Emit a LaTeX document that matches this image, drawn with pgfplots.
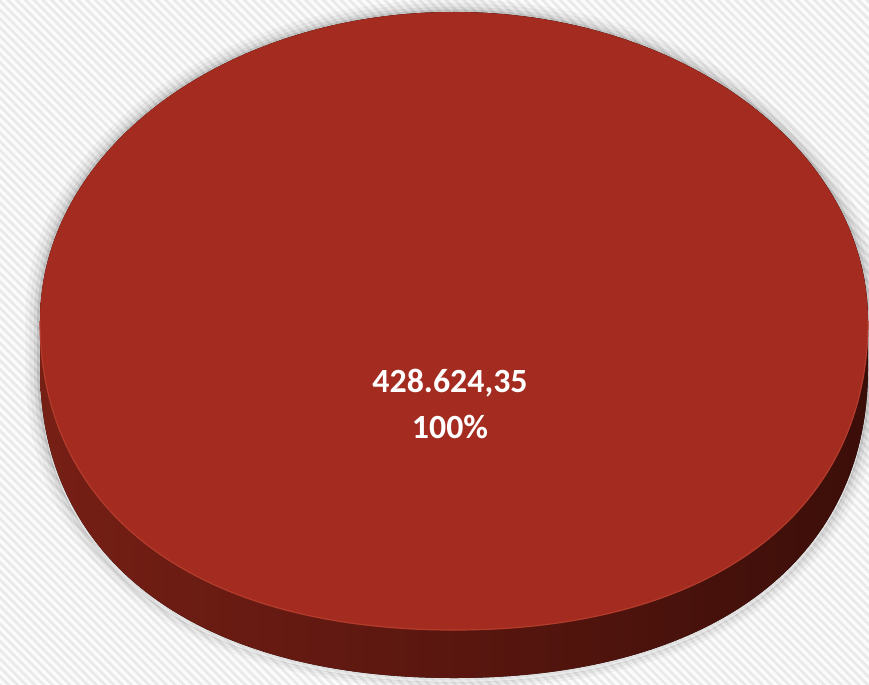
\documentclass[border=0pt]{standalone}
\usepackage{fontspec}
\setmainfont{Carlito}
\usepackage{pgfplots}
\usepackage{pgfplotstable}
\pgfplotsset{compat=1.18}
\usetikzlibrary{patterns.meta}

\definecolor{piefill}{HTML}{A32B1F}
\definecolor{pieedge}{HTML}{B53C2C}
\definecolor{sideL}{HTML}{761F15}
\definecolor{sideM}{HTML}{4E130C}
\definecolor{sideR}{HTML}{3C0E09}
\definecolor{bgstripe}{HTML}{E9E9E9}
\definecolor{bgbase}{HTML}{FBFBFB}

% one slice: the whole total
\pgfplotstableread{
name value
Total 428624.35
}\piedata

% outline of the disc (top face + side), in pixel units, y down
\def\discoutline{(40,321) .. controls (40,150) and (225,12) .. (454,12)
  .. controls (683,12) and (868,150) .. (868,321) -- (868,369)
  .. controls (868,561) and (711,678) .. (454,678)
  .. controls (197,678) and (40,561) .. (40,369) -- cycle}
% top face
\def\topface{(40,321) .. controls (40,150) and (225,12) .. (454,12)
  .. controls (683,12) and (868,150) .. (868,321)
  .. controls (868,513) and (711,630) .. (454,630)
  .. controls (197,630) and (40,513) .. (40,321) -- cycle}

\begin{document}
\begin{tikzpicture}
\pgfplotstablegetelem{0}{value}\of\piedata
\let\pievalue\pgfplotsretval
\begingroup
\pgfkeys{/pgf/fpu=true,/pgf/fpu/output format=fixed}
\pgfmathparse{100*\pievalue/\pievalue}
\xdef\pieshare{\pgfmathresult}
\endgroup
\begin{axis}[
  width=869bp, height=685bp, scale only axis,
  hide axis,
  xmin=0, xmax=869, ymin=0, ymax=685,
  y dir=reverse,
  /pgf/number format/assume math mode=true,
]
% background with faint diagonal stripes
\fill[bgbase] (0,0) rectangle (869,685);
\fill[pattern={Lines[angle=-45,distance=6.2bp,line width=2.6bp]},
  pattern color=bgstripe] (0,0) rectangle (869,685);
% soft shadow
\fill[black,opacity=0.03,scale around={1.035:(454,370)}] \discoutline;
\fill[black,opacity=0.04,scale around={1.025:(454,370)}] \discoutline;
\fill[black,opacity=0.06,scale around={1.015:(454,365)}] \discoutline;
\fill[black,opacity=0.09,scale around={1.007:(454,360)}] \discoutline;
\fill[white,opacity=0.5,shift={(0,4)}] \discoutline;
% side of the disc
\fill[left color=sideL, middle color=sideM, right color=sideR] \discoutline;
% top face (100 % slice)
\fill[piefill] \topface;
\draw[pieedge,line width=1.2bp] (868,321) .. controls (868,513) and (711,630) .. (454,630)
  .. controls (197,630) and (40,513) .. (40,321);
% label
\node[white, font=\bfseries\fontsize{34}{47}\selectfont, align=center]
  at (450,404) {\pgfmathprintnumber[fixed,fixed zerofill,precision=2,use comma,1000 sep={.}]{\pievalue}\\
  \pgfmathprintnumber[fixed,precision=0]{\pieshare}\%};
\end{axis}
\end{tikzpicture}
\end{document}
